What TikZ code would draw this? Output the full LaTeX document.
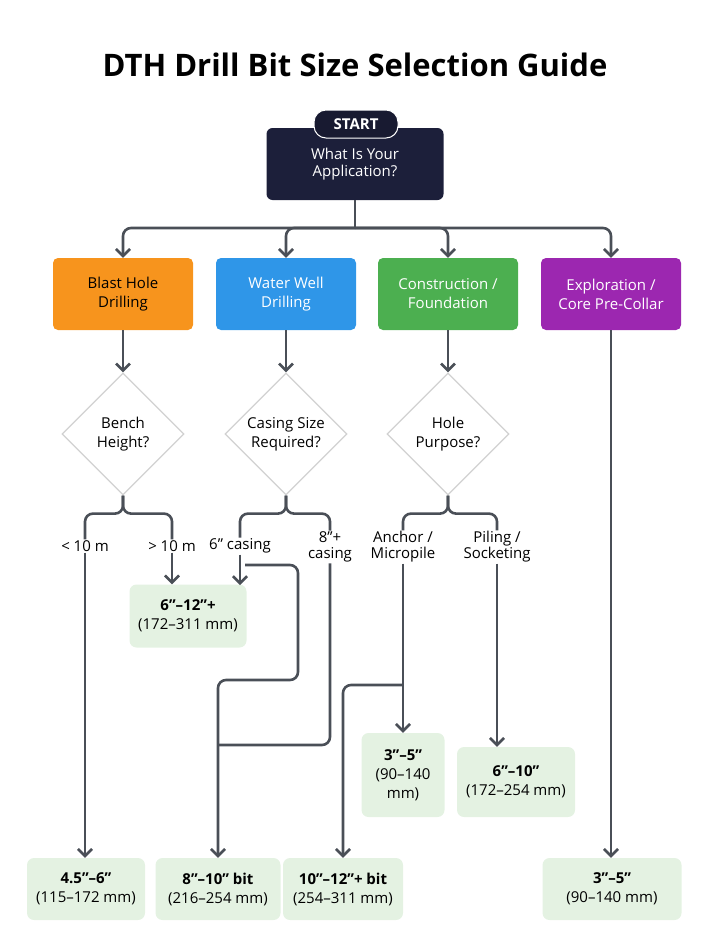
\documentclass[tikz,border=0pt]{standalone}
\usepackage{fontspec}
\setmainfont{Open Sans}
\usetikzlibrary{arrows.meta,shapes.geometric}
\definecolor{navy}{HTML}{1C1F3A}
\definecolor{blasto}{HTML}{F7941D}
\definecolor{wellb}{HTML}{2F96E8}
\definecolor{constg}{HTML}{4CAF50}
\definecolor{explp}{HTML}{9C27B0}
\definecolor{resg}{HTML}{E4F2E2}
\definecolor{wire}{HTML}{4A4F57}
\tikzset{
  wire/.style={draw=wire,line width=2.6pt,rounded corners=8pt},
  tip/.style={wire,-{Straight Barb[length=7pt,width=14pt]}},
  app/.style={rounded corners=5pt,minimum width=140pt,minimum height=72pt,align=center,font=\fontsize{15}{19}\selectfont,text=white},
  ask/.style={diamond,draw=black!18,line width=1.2pt,fill=white,minimum width=122pt,minimum height=122pt,inner sep=0pt,align=center,font=\fontsize{15}{19}\selectfont},
  res/.style={fill=resg,rounded corners=7pt,align=center,font=\fontsize{15}{19}\selectfont},
  lbl/.style={fill=white,inner sep=1pt,align=center,font=\fontsize{15}{19}\selectfont}
}
\begin{document}
\begin{tikzpicture}[x=1pt,y=1pt,yscale=-1]
\useasboundingbox (0,0) rectangle (709,950);

% Text Node
\node (title) at (355,65) {\fontsize{31}{36}\selectfont\bfseries DTH Drill Bit Size Selection Guide};

%Start
\node[fill=navy,rounded corners=6pt,minimum width=177pt,minimum height=72pt,align=center,text=white,font=\fontsize{15}{19}\selectfont] (start) at (355,164) {\raisebox{-8pt}{What Is Your}\\[-2pt]\raisebox{-8pt}{Application?}};
\node[fill=navy!85!black,draw=white,line width=1pt,rounded corners=12pt,minimum width=84pt,minimum height=28pt,text=white,font=\fontsize{15}{18}\selectfont\bfseries] (tab) at (356,124) {START};

%Applications
\node[app,fill=blasto,text=black] (blast) at (123,294) {Blast Hole\\Drilling};
\node[app,fill=wellb] (well) at (286,294) {Water Well\\Drilling};
\node[app,fill=constg] (cons) at (448,294) {Construction /\\Foundation};
\node[app,fill=explp] (expl) at (611,294) {Exploration /\\Core Pre-Collar};

\coordinate (bus) at (355,228);
\draw[wire] (start.south) -- (bus);
\foreach \n in {blast,well,cons,expl}
  \draw[tip] (bus) -| (\n.north);

%Questions
\node[ask] (bench) at (123,434) {Bench\\Height?};
\node[ask] (casing) at (286,434) {Casing Size\\Required?};
\node[ask] (purpose) at (448,434) {Hole\\Purpose?};
\foreach \a/\b in {blast/bench,well/casing,cons/purpose}
  \draw[tip] (\a.south) -- (\b.north);

%Branch labels
\node[lbl] (lo) at (85,546) {< 10 m};
\node[lbl] (hi) at (172,546) {> 10 m};
\node[lbl] (six) at (240,546) {6" casing};
\node[lbl] (eight) at (330,547) {8"+\\[-3pt]casing};
\node[lbl] (anchor) at (403,547) {Anchor /\\[-3pt]Micropile};
\node[lbl] (pile) at (497,547) {Piling /\\[-3pt]Socketing};

\foreach \q/\l/\r in {bench/lo/hi,casing/six/eight,purpose/anchor/pile}{
  \draw[wire] (\q.south) -- ++(0,18) -| (\l.north);
  \draw[wire] (\q.south) -- ++(0,18) -| (\r.north);
}

%Results
\node[res,minimum width=117pt,minimum height=63pt] (r612) at (188,616) {\textbf{6"–12"+}\\(172–311 mm)};
\node[res,minimum width=83pt,minimum height=84pt] (r35a) at (403,775) {\textbf{3"–5"}\\(90–140\\mm)};
\node[res,minimum width=118pt,minimum height=70pt] (r610) at (516,782) {\textbf{6"–10"}\\(172–254 mm)};
\node[res,minimum width=118pt,minimum height=62pt] (r456) at (86,889) {\textbf{4.5"–6"}\\(115–172 mm)};
\node[res,minimum width=125pt,minimum height=62pt] (r810) at (218,889) {\textbf{8"–10" bit}\\(216–254 mm)};
\node[res,minimum width=120pt,minimum height=62pt] (r1012) at (343,889) {\textbf{10"–12"+ bit}\\(254–311 mm)};
\node[res,minimum width=139pt,minimum height=62pt] (r35b) at (612,889) {\textbf{3"–5"}\\(90–140 mm)};

%Connectors to results
\draw[tip] (lo.south) -- (lo.south |- r456.north);
\draw[tip] (hi.south) -- (hi.south |- r612.north);
\draw[tip] (six.south -| 240,0) -- (240,585);
\coordinate (jog) at (245,565);
\draw[tip] (jog) -- (298,565) -- (298,680) -- (218,680) -- (r810.north);
\draw[wire] (eight.south) -- (330,745) -- (218,745);
\draw[tip] (anchor.south) -- (r35a.north);
\coordinate (split) at (403,685);
\draw[tip] (split) -- (343,685) -- (r1012.north);
\draw[tip] (pile.south) -- (pile.south |- r610.north);
\draw[tip] (expl.south) -- (expl.south |- r35b.north);
\end{tikzpicture}
\end{document}
